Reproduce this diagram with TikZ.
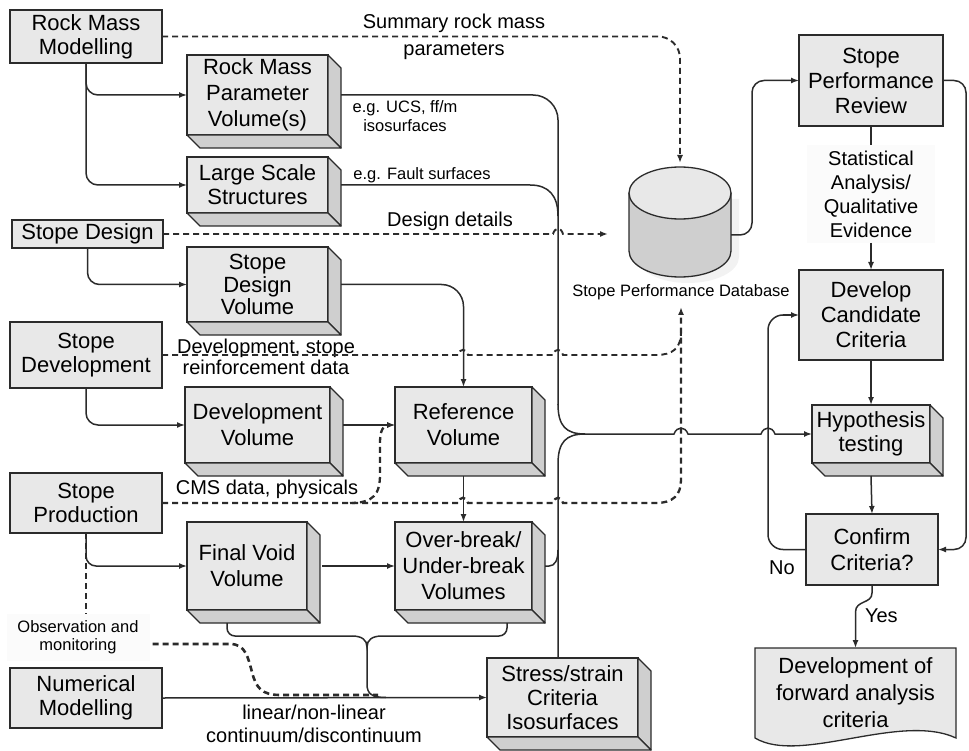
\documentclass[tikz,border=0pt]{standalone}
\usepackage{fontspec}
\setmainfont{Liberation Sans}
\usetikzlibrary{calc,arrows.meta}
\definecolor{ink}{gray}{0.17}
\definecolor{frontc}{gray}{0.91}
\definecolor{sidec}{gray}{0.81}
\tikzset{
  every node/.style={text=black, inner sep=0pt, outer sep=0pt},
  box/.style={draw=ink, line width=1.3pt, fill=frontc, align=center, anchor=north west, font=\fontsize{22}{24}\selectfont},
  side/.style={draw=ink, line width=1.3pt, fill=sidec, line join=round},
  conn/.style={draw=ink, line width=1.5pt},
  arr/.style={-{Latex[length=8pt,width=6pt]}},
  dconn/.style={draw=ink, line width=1.9pt, dash pattern=on 6pt off 4pt},
  lbl/.style={align=center, font=\fontsize{20}{22}\selectfont},
  slbl/.style={align=center, font=\fontsize{16.5}{18.5}\selectfont},
  softbg/.style={fill=gray!3},
}
\newcommand{\extrude}[1]{%
  \filldraw[side] (#1.north east) -- ($(#1.north east)+(13,13)$) -- ($(#1.south east)+(13,13)$) -- (#1.south east) -- cycle;
  \filldraw[side] (#1.south west) -- ($(#1.south west)+(13,13)$) -- ($(#1.south east)+(13,13)$) -- (#1.south east) -- cycle;
}
\begin{document}
\begin{tikzpicture}[x=1pt,y=-1pt]
\useasboundingbox (0,0) rectangle (969,751);

% ---------- flat boxes (left) ----------
\node[box, minimum width=152pt, minimum height=53pt] (rmm) at (10,10) {Rock Mass\\Modelling};
\node[box, minimum width=151pt, minimum height=28pt] (sd) at (12,220) {Stope Design};
\node[box, minimum width=152pt, minimum height=66pt] (sdev) at (10,322) {Stope\\Development};
\node[box, minimum width=152pt, minimum height=60pt] (sprod) at (10,473) {Stope\\Production};
\node[box, minimum width=152pt, minimum height=60pt] (num) at (10,668) {Numerical\\Modelling};

% ---------- 3D boxes ----------
\node[box, minimum width=141pt, minimum height=80pt, font=\fontsize{22}{26}\selectfont] (rmpv) at (187,55) {Rock Mass\\Parameter\\Volume(s)};
\extrude{rmpv}
\node[box, minimum width=141pt, minimum height=56pt] (lss) at (187,157) {Large Scale\\Structures};
\extrude{lss}
\node[box, minimum width=141pt, minimum height=75pt, font=\fontsize{22}{22.5}\selectfont] (sdv) at (187,247) {Stope\\Design\\Volume};
\extrude{sdv}
\node[box, minimum width=145pt, minimum height=76pt, font=\fontsize{22}{26}\selectfont] (dv) at (185,387) {Development\\Volume};
\extrude{dv}
\node[box, minimum width=137pt, minimum height=76pt, font=\fontsize{22}{26}\selectfont] (ref) at (395,387) {Reference\\Volume};
\extrude{ref}
\node[box, minimum width=120pt, minimum height=88pt, font=\fontsize{22}{26}\selectfont] (fvv) at (187,522) {Final Void\\Volume};
\extrude{fvv}
\node[box, minimum width=137pt, minimum height=88pt, font=\fontsize{22}{26}\selectfont] (ob) at (395,522) {Over-break/\\Under-break\\Volumes};
\extrude{ob}
\node[box, minimum width=151pt, minimum height=79pt, font=\fontsize{22}{24}\selectfont] (ss) at (487,658) {Stress/strain\\Criteria\\Isosurfaces};
\extrude{ss}
\node[box, minimum width=118pt, minimum height=58pt] (hyp) at (812,405) {Hypothesis\\testing};
\extrude{hyp}

% ---------- right column ----------
\node[box, minimum width=144pt, minimum height=91pt, font=\fontsize{22}{25}\selectfont] (spr) at (799,35) {Stope\\Performance\\Review};
\node[box, minimum width=144pt, minimum height=90pt, font=\fontsize{22}{25}\selectfont] (dcc) at (799,270) {Develop\\Candidate\\Criteria};
\node[box, minimum width=132pt, minimum height=71pt, font=\fontsize{22}{26}\selectfont] (cc) at (806,514) {Confirm\\Criteria?};

% document shape
\filldraw[draw=ink, line width=1.3pt, fill=frontc] (755,648) -- (956,648) -- (956,738)
  .. controls (900,712) and (800,765) .. (755,738) -- cycle;
\node[align=center, font=\fontsize{22}{27}\selectfont, minimum width=201pt, minimum height=90pt, anchor=north west] (doc) at (755,648) {Development of\\forward analysis\\criteria};

% database cylinder
\coordinate (db) at (680,222);
\fill[gray!10] (637,199) -- (637,257) .. controls (637,271.4) and (659.8,283) .. (688,283) .. controls (716.2,283) and (739,271.4) .. (739,257) -- (739,199) -- cycle;
\fill[sidec] (629,193) -- (629,251) .. controls (629,265.4) and (651.8,277) .. (680,277) .. controls (708.2,277) and (731,265.4) .. (731,251) -- (731,193) -- cycle;
\draw[ink, line width=1.3pt] (629,193) -- (629,251) .. controls (629,265.4) and (651.8,277) .. (680,277) .. controls (708.2,277) and (731,265.4) .. (731,251) -- (731,193);
\filldraw[fill=frontc, draw=ink, line width=1.3pt] (680,193) ellipse [x radius=51pt, y radius=26pt];
\node[slbl] (dblbl) at (681,292) {Stope Performance Database};
\coordinate (dbtop) at (680,163);
\coordinate (dbin) at (608,234);
\coordinate (dbbot) at (681,307);
\coordinate (dbr) at (731,235);
\coordinate (mj) at (585,434);
\coordinate (cmsb) at (350,503);

% ---------- labels ----------
\node[lbl] (summ) at (454,37) {Summary rock mass\\[5pt]parameters};
\node[slbl] (ucs) at (405,116) {e.g. UCS, ff/m\\isosurfaces};
\node[slbl] (fault) at (422,175) {e.g. Fault surfaces};
\node[lbl] (desl) at (450,221) {Design details};
\node[lbl, font=\fontsize{20}{21}\selectfont] (devl) at (266,357) {Development, stope\\reinforcement data};
\node[lbl] (cms) at (267,489) {CMS data, physicals};
\node[lbl, font=\fontsize{20}{23}\selectfont] (lin) at (314,724) {linear/non-linear\\continuum/discontinuum};
\node[slbl, softbg, minimum width=143pt, minimum height=47pt] (obs) at (78,637) {Observation and\\monitoring};
\node[lbl, font=\fontsize{20}{24}\selectfont, softbg, minimum width=128pt, minimum height=98pt] (stat) at (871,194) {Statistical\\Analysis/\\Qualitative\\Evidence};
\node[lbl] (no) at (782,568) {No};
\node[lbl, anchor=west] (yes) at (865,616) {Yes};

% ---------- connectors ----------
% rock mass modelling
\draw[dconn, arr, rounded corners=22pt] (rmm.east) -- (680,36.5) -- (dbtop);
\draw[conn, arr, rounded corners=12pt] (rmm.south) |- (rmpv.west);
\draw[conn, arr, rounded corners=12pt] (rmm.south) |- (lss.west);
% long verticals to hypothesis testing
\draw[conn, rounded corners=25pt] ($(rmpv.east)+(13,0)$) -- (558,95) -- (558,405);
\draw[conn] ($(lss.east)+(13,0)$) -- (530,185) .. controls (549,185) and (558,196) .. (558,216);
\draw[conn] (558,404) .. controls (558,426) and (566,434) .. (mj);
\draw[conn] (ss.north -| 558,0) -- (558,464) .. controls (558,442) and (566,434) .. (mj);
\draw[conn] ($(ob.east)+(13,0)$) -- (549,566) .. controls (555,566) and (558,560) .. (558,550);
\draw[conn, arr] (mj) -- (674,434) .. controls (677,426) and (685,426) .. (688,434)
  -- (761,434) .. controls (764,426) and (772,426) .. (775,434) -- (hyp.west);
% stope design
\draw[dconn, arr] (sd.east) -- (553,234) .. controls (555,227) and (561,227) .. (563,234) -- (dbin);
\draw[conn, arr, rounded corners=12pt] (sd.south) |- (sdv.west);
\draw[conn, arr, rounded corners=22pt] ($(sdv.east)+(13,0)$) -| (ref.north);
% stope development
\draw[dconn] (sdev.east) -- (458,355) .. controls (460,348) and (466,348) .. (468,355)
  -- (553,355) .. controls (555,348) and (561,348) .. (563,355)
  -- (656,355) .. controls (673,355) and (681,348) .. (681,332);
\draw[conn, arr, rounded corners=12pt] (sdev.south) |- (dv.west);
\draw[conn, arr] ($(dv.east)+(13,0)$) -- (ref.west);
% stope production
\draw[dconn, line width=2.3pt, arr] (sprod.east) -- (458,503) .. controls (460,496) and (466,496) .. (468,503)
  -- (553,503) .. controls (555,496) and (561,496) .. (563,503)
  -- (656,503) .. controls (673,503) and (681,495) .. (681,480) -- (dbbot);
\draw[dconn, line width=2.3pt, arr] (cmsb) .. controls (374,503) and (380,494) .. (380,474) -- (380,442) .. controls (380,430) and (384,425) .. (ref.west);
\draw[conn, arr] ($(ref.south)+(0,13)$) -- (ob.north);
\draw[dconn, line width=2.6pt] (sprod.south) -- (sprod.south |- obs.north);
\draw[conn, arr, rounded corners=10pt] (sprod.south) |- (fvv.west);
\draw[conn, arr] (fvv.east -| 322,0) -- (ob.west);
% brace under final void / over-break
\draw[conn, rounded corners=8pt] ($(fvv.south west)+(40,13)$) -- (227,636) -- (352,636);
\draw[conn, rounded corners=8pt] ($(ob.south west)+(112,13)$) -- (507,636) -- (382,636);
\draw[conn] (352,636) .. controls (362,636) and (367,640) .. (367,647) .. controls (367,640) and (372,636) .. (382,636);
\draw[conn] (367,647) -- (367,684) .. controls (367,694) and (372,697.5) .. (386,697.5);
% numerical modelling and observation
\draw[conn, arr] (num.east) -- (ss.west);
\draw[dconn, line width=2.6pt] ($(obs.east)+(3,7)$) -- (230,644) .. controls (246,644) and (248,658) .. (252,672)
  .. controls (256,688) and (262,695) .. (280,695) -- (378,695);
% right column
\draw[conn, arr, rounded corners=12pt] (dbr) -- (752,235) -- (752,80.5) -- (spr.west);
\draw[conn] (spr.south) -- (stat.north);
\draw[conn, arr] (stat.south) -- (dcc.north);
\draw[conn, arr] (dcc.south) -- (hyp.north);
\draw[conn, arr] ($(hyp.south)+(0,13)$) -- (cc.north);
\draw[conn, arr, rounded corners=12pt] (spr.east) -- (966,80.5) -- (966,549.5) -- (cc.east);
\draw[conn, arr, rounded corners=15pt] (cc.west) -- (768,549.5) -- (768,315) -- (dcc.west);
\draw[conn, arr] (cc.south) -- (872,593) .. controls (872,604) and (855.5,600) .. (855.5,612) -- (doc.north);
\end{tikzpicture}
\end{document}
